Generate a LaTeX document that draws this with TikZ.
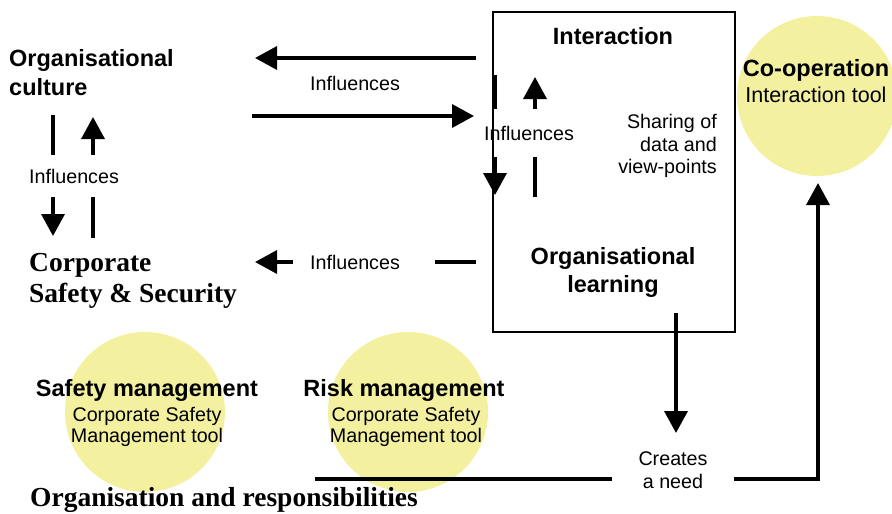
\documentclass[tikz,border=0pt]{standalone}
\usepackage{fontspec}
\setmainfont{Liberation Serif}
\setsansfont{Liberation Sans}
\usetikzlibrary{arrows.meta}

\definecolor{toolyellow}{RGB}{243,240,160}

\begin{document}
\begin{tikzpicture}[x=1pt,y=-1pt,
    arr/.style={line width=3.5pt,-{Triangle[length=22pt,width=23pt]}},
    bar/.style={line width=3.5pt},
    head/.style={font=\sffamily\bfseries\fontsize{23.5}{28}\selectfont,inner sep=0pt,align=center},
    txt/.style={font=\sffamily\fontsize{19.7}{22.5}\selectfont,inner sep=0pt,align=center},
    big/.style={font=\rmfamily\bfseries\fontsize{27.5}{31}\selectfont,inner sep=0pt,align=left,anchor=west},
    tool/.style={circle,fill=toolyellow,minimum size=160pt,inner sep=0pt}]

      \clip (0,0) rectangle (892,514);

      % the three tools
      \node[tool] (safety) at (145,412) {};
      \node[tool] (risk)   at (408,412) {};
      \node[tool] (coop)   at (817,96)  {};

      % influences between culture, security and the learning box
      \draw[arr] (476,58)  -- (255,58);
      \draw[arr] (252,116) -- (474,116);
      \draw[arr] (53,115)  -- (53,236);
      \draw[arr] (93,238)  -- (93,117);
      \draw[arr] (495,75)  -- (495,195);
      \draw[arr] (535,197) -- (535,77);

      % need for co-operation
      \draw[arr] (676,313) -- (676,433);
      \draw[arr] (315,479) -- (818,479) -- (818,183);

      \begin{scope}[every node/.style={txt,fill=white}]
        \node (inf1) at (355,83)  {Influences};
        \node[inner ysep=14pt] (inf2) at (74,176) {Influences};
        \node[inner ysep=17pt] (inf4) at (529,133) {Influences};
        \node[inner xsep=27pt,inner ysep=2pt] (need) at (673,470) {Creates\\a need};
      \end{scope}

      \node[txt] (inf3) at (355,262) {Influences};
      \draw[arr] ([xshift=-17pt]inf3.west) -- (255,262);
      \draw[bar] (476,262) -- ([xshift=35pt]inf3.east);

      \draw[line width=2pt] (493,12) rectangle (735,332);

      \node[head,anchor=west,align=left,font=\sffamily\bfseries\fontsize{23.5}{29}\selectfont] (culture) at (9,73) {Organisational\\culture};
      \node[big] (corporate) at (29,281) {Corporate\\Safety \& Security};
      \node[big] (orgresp)   at (30,500) {Organisation and responsibilities};

      \node[head] (interaction) at (613,36)  {Interaction};
      \node[head] (learning)    at (613,272) {Organisational\\learning};
      \node[txt,align=right,anchor=east] (sharing) at (717,146) {Sharing of\\data and\\view-points};

      \node[head] (cooptitle) at (816,70) {Co-operation};
      \node[txt,font=\sffamily\fontsize{21.5}{25}\selectfont] (cooptool) at (816,95) {Interaction tool};

      \node[head] (safetytitle) at (147,390) {Safety management};
      \node[txt,font=\sffamily\fontsize{19.7}{21}\selectfont] (safetytool) at (147,427) {Corporate Safety\\Management tool};
      \node[head] (risktitle) at (404,390) {Risk management};
      \node[txt,font=\sffamily\fontsize{19.7}{21}\selectfont] (risktool) at (406,427) {Corporate Safety\\Management tool};

    \end{tikzpicture}
\end{document}
